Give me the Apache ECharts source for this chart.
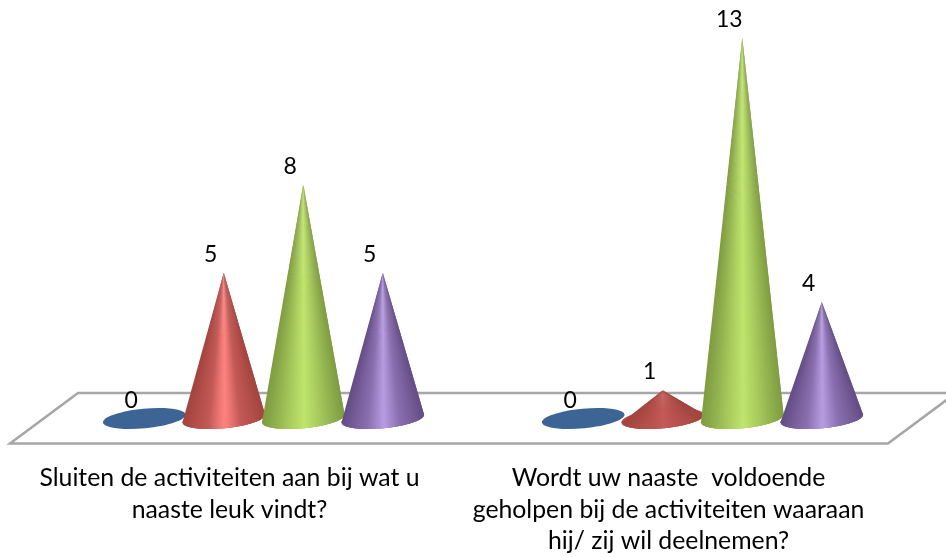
<!DOCTYPE html>
<html>
<head>
<meta charset="utf-8">
<style>html,body{margin:0;padding:0;background:#fff}#chart{width:946px;height:557px}</style>
<script src="https://cdn.jsdelivr.net/npm/echarts@6/dist/echarts.min.js"></script>
</head>
<body>
<div id="chart"></div>
<script>
// Survey answers per question
const categories = [
  'Sluiten de activiteiten aan bij wat u\nnaaste leuk vindt?',
  'Wordt uw naaste  voldoende\ngeholpen bij de activiteiten waaraan\nhij/ zij wil deelnemen?'
];
const answerA = [0, 0];
const answerB = [5, 1];
const answerC = [8, 13];
const answerD = [5, 4];

const FONT = 'Lato, Carlito, Calibri, sans-serif';
const DEPTH = 34;           // half the floor's horizontal shear
const RX = 41.5, RY = 9.8;  // base ellipse radii
const TILT = -5.5 * Math.PI / 180;

// Colour stops from the cone's silhouette edge (0) to its centre line (1)
const ramps = [
  [[0, '#3a6291'], [1, '#3c6494']],
  [[0, '#a2443f'], [0.3, '#b44f4b'], [0.6, '#c25a56'], [0.85, '#ea7672'], [1, '#ff8280']],
  [[0, '#7f9c41'], [0.3, '#91b04f'], [0.6, '#a6c85c'], [0.85, '#b6da66'], [1, '#bfe56f']],
  [[0, '#644d85'], [0.3, '#785f9b'], [0.6, '#8a6fae'], [0.85, '#a78bd0'], [1, '#b79ee0']]
];

function hex(c) { return [1, 3, 5].map(i => parseInt(c.substr(i, 2), 16)); }
function shade(ramp, t) {
  for (let i = 1; i < ramp.length; i++) {
    if (t <= ramp[i][0]) {
      const k = (t - ramp[i - 1][0]) / (ramp[i][0] - ramp[i - 1][0]);
      const a = hex(ramp[i - 1][1]), b = hex(ramp[i][1]);
      return 'rgb(' + a.map((v, j) => Math.round(v + (b[j] - v) * k)).join(',') + ')';
    }
  }
  return ramp[ramp.length - 1][1];
}

function coneSeries(values, idx) {
  return {
    type: 'custom',
    data: values.map((v, c) => [c, v]),
    encode: { x: 0, y: 1 },
    renderItem(params, api) {
      const value = api.value(1);
      const top = api.coord([api.value(0), value]);
      const ground = api.coord([api.value(0), 0]);
      const step = api.size([1, 0])[0] * 0.1811;
      const cx = top[0] + DEPTH + (idx - 1.5) * step;
      const cy = ground[1] - 1;
      const cos = Math.cos(TILT), sin = Math.sin(TILT);
      // Point on the tilted base ellipse for a horizontal position u in [-1, 1], front side
      const pt = u => {
        const ex = RX * u, ey = RY * Math.sqrt(Math.max(0, 1 - u * u));
        return [cx + ex * cos - ey * sin, cy + ex * sin + ey * cos];
      };
      const ramp = ramps[idx];
      // Short cones catch much less of the highlight
      const peak = value > 0 && value < 2 ? 0.62 : 1;
      const children = [{
        type: 'ellipse',
        shape: { cx: 0, cy: 0, rx: RX, ry: RY },
        x: cx, y: cy, rotation: -TILT,
        style: { fill: shade(ramp, value > 0 ? 0.4 : 1) }
      }];
      if (value > 0) {
        // Fan of overlapping slices from the apex to the front half of the base
        const N = 64;
        for (let i = 0; i < N; i++) {
          const u0 = -1 + 2 * i / N;
          const u1 = Math.min(1, u0 + 4 / N);
          const mid = u0 + 1 / N;
          const arc = [];
          for (let k = 0; k <= 6; k++) arc.push(pt(u0 + (u1 - u0) * k / 6));
          const c = shade(ramp, (1 - Math.abs(mid)) * peak);
          children.push({
            type: 'polygon',
            shape: { points: [[cx, top[1]]].concat(arc) },
            style: { fill: c }
          });
        }
      }
      children.push({
        type: 'text',
        x: cx - 13,
        y: top[1] - 18.5,
        style: {
          text: String(value), font: '23px ' + FONT, fill: '#000',
          align: 'center', verticalAlign: 'middle'
        }
      });
      return { type: 'group', children };
    }
  };
}

const floorSeries = {
  type: 'custom',
  data: [[0, 0]],
  encode: { x: 0, y: 1 },
  silent: true,
  renderItem(params, api) {
    const g = params.coordSys;
    const y0 = api.coord([0, 0])[1];
    const front = y0 + 24, back = y0 - 26.5;
    const pts = [
      [g.x, front], [g.x + DEPTH * 2, back],
      [g.x + g.width + DEPTH * 2, back], [g.x + g.width, front]
    ];
    return {
      type: 'polygon',
      shape: { points: pts },
      style: { fill: '#fff', stroke: '#a6a6a6', lineWidth: 2.6, lineJoin: 'miter' }
    };
  }
};

const chart = echarts.init(document.getElementById('chart'), null, { renderer: 'canvas' });
chart.setOption({
  animation: false,
  backgroundColor: '#fff',
  grid: { left: 10, right: 58, top: 8.4, bottom: 137 },
  xAxis: {
    type: 'category',
    data: categories,
    axisLine: { show: false },
    axisTick: { show: false },
    axisLabel: { interval: 0, margin: 43, color: '#000', fontFamily: FONT, fontSize: 24.8, lineHeight: 31.5, align: 'center', verticalAlign: 'top' }
  },
  yAxis: { type: 'value', min: 0, max: 14, show: false },
  series: [floorSeries, coneSeries(answerA, 0), coneSeries(answerB, 1), coneSeries(answerC, 2), coneSeries(answerD, 3)]
});
</script>
</body>
</html>
